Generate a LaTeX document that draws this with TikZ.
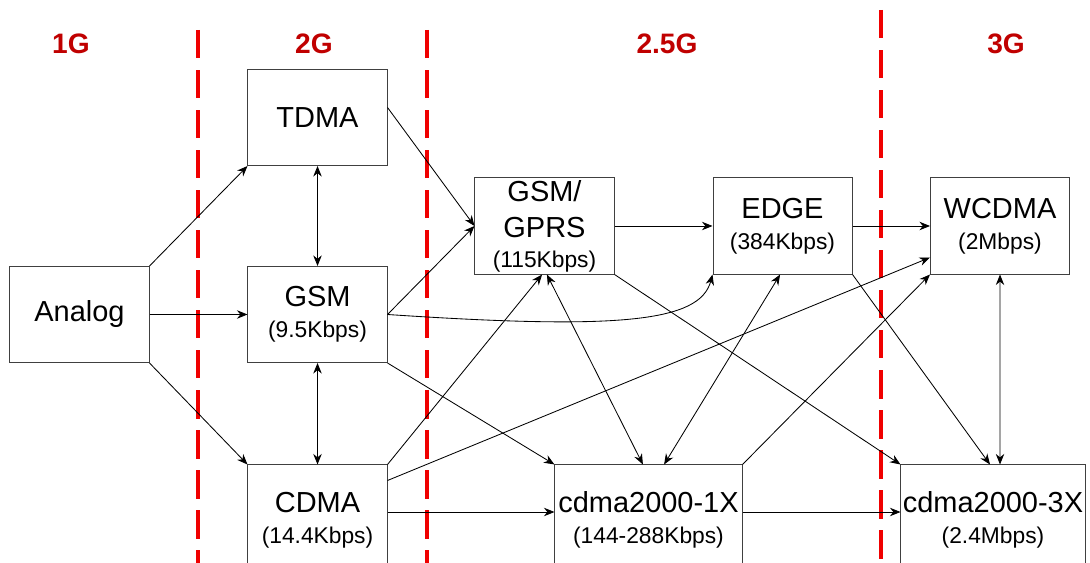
\documentclass[tikz,border=0pt]{standalone}
\usepackage{fontspec}
\setmainfont{Liberation Sans}
\usepackage{tikz}
\usetikzlibrary{arrows.meta, positioning}
\definecolor{genred}{RGB}{192,0,0}
\definecolor{linered}{RGB}{240,0,0}
\newcommand{\ratetxt}[1]{{\fontsize{16.2}{19}\selectfont #1}}
\tikzset{
    techbox/.style={rectangle, draw=black!75, line width=0.7pt, fill=white,
                    align=center, inner sep=1pt, minimum width=3.475cm,
                    minimum height=2.4cm, font=\fontsize{20.6}{24}\selectfont},
    lowbox/.style={techbox, minimum height=2.75cm},
    widebox/.style={lowbox, minimum width=4.675cm},
    genlbl/.style={font=\fontsize{20}{24}\selectfont\bfseries, text=genred},
    gendiv/.style={draw=linered, line width=2.3pt, dash pattern=on 0.71cm off 0.29cm},
    arrow/.style={-{Stealth[length=7.5pt, width=6pt]}, line width=0.6pt},
    dblarrow/.style={{Stealth[length=7.5pt, width=6pt]}-{Stealth[length=7.5pt, width=6pt]},
                     line width=0.6pt},
}

\begin{document}
\begin{tikzpicture}[x=0.025cm, y=-0.025cm]
    \useasboundingbox (0,0) rectangle (1090,563);
    % generation borders
    \draw[gendiv] (198,30) -- (198,563);
    \draw[gendiv] (427,30) -- (427,563);
    \draw[gendiv] (881,10) -- (881,563);
    % generation labels
    \node[genlbl] (g1) at (71,44) {1G};
    \node[genlbl] (g2) at (314,44) {2G};
    \node[genlbl] (g25) at (667,44) {2.5G};
    \node[genlbl] (g3) at (1006,44) {3G};
    % technologies
    \node[techbox] (analog) at (79.5,314.5) {Analog};
    \node[techbox] (tdma) at (317.5,117.5) {TDMA};
    \node[techbox] (gsm) at (317.5,314.5) {GSM\\[-2pt]\ratetxt{(9.5Kbps)}};
    \node[lowbox] (cdma) at (317.5,520) {CDMA\\[-2pt]\ratetxt{(14.4Kbps)}};
    \node[techbox] (gprs) at (544.5,226) {GSM/\\[2pt]GPRS\\[-3pt]\ratetxt{(115Kbps)}};
    \node[techbox] (edge) at (782.5,226) {EDGE\\[-2pt]\ratetxt{(384Kbps)}};
    \node[techbox] (wcdma) at (1000,226) {WCDMA\\[-2pt]\ratetxt{(2Mbps)}};
    \node[widebox] (cdx1) at (648.5,520) {cdma2000-1X\\[-2pt]\ratetxt{(144-288Kbps)}};
    \node[widebox, minimum width=4.6cm] (cdx3) at (993,520) {cdma2000-3X\\[-2pt]\ratetxt{(2.4Mbps)}};
    % 1G -> 2G
    \draw[arrow] (analog.north east) -- (tdma.south west);
    \draw[arrow] (analog.east) -- (gsm.west);
    \draw[arrow] (analog.south east) -- (cdma.north west);
    \draw[dblarrow] (tdma.south) -- (gsm.north);
    \draw[dblarrow] (gsm.south) -- (cdma.north);
    % 2G -> 2.5G / 3G
    \draw[arrow] ([yshift=0.25cm]tdma.east) -- (gprs.west);
    \draw[arrow] (gsm.east) -- (gprs.west);
    \draw[arrow] (gsm.east) .. controls (620,330) and (700,322) .. (edge.south west);
    \draw[arrow] (gsm.south east) -- (cdx1.north west);
    \draw[arrow] (cdma.north east) -- ([xshift=-0.06cm]gprs.south);
    \draw[arrow] ([yshift=-0.4cm]cdma.north east) -- ([yshift=0.425cm]wcdma.south west);
    \draw[arrow] ([yshift=0.2cm]cdma.east) -- ([yshift=0.2cm]cdx1.west);
    % 2.5G -> 3G
    \draw[arrow] (gprs.east) -- (edge.west);
    \draw[dblarrow] ([xshift=0.06cm]gprs.south) -- ([xshift=-0.14cm]cdx1.north);
    \draw[arrow] (gprs.south east) -- (cdx3.north west);
    \draw[dblarrow] ([xshift=-0.06cm]edge.south) -- ([xshift=0.39cm]cdx1.north);
    \draw[arrow] (edge.east) -- (wcdma.west);
    \draw[arrow] (edge.south east) -- ([xshift=-0.075cm]cdx3.north);
    \draw[arrow] (cdx1.north east) -- (wcdma.south west);
    \draw[dblarrow] (wcdma.south) -- ([xshift=0.175cm]cdx3.north);
    \draw[arrow] ([yshift=0.2cm]cdx1.east) -- ([yshift=0.2cm]cdx3.west);
\end{tikzpicture}
\end{document}
